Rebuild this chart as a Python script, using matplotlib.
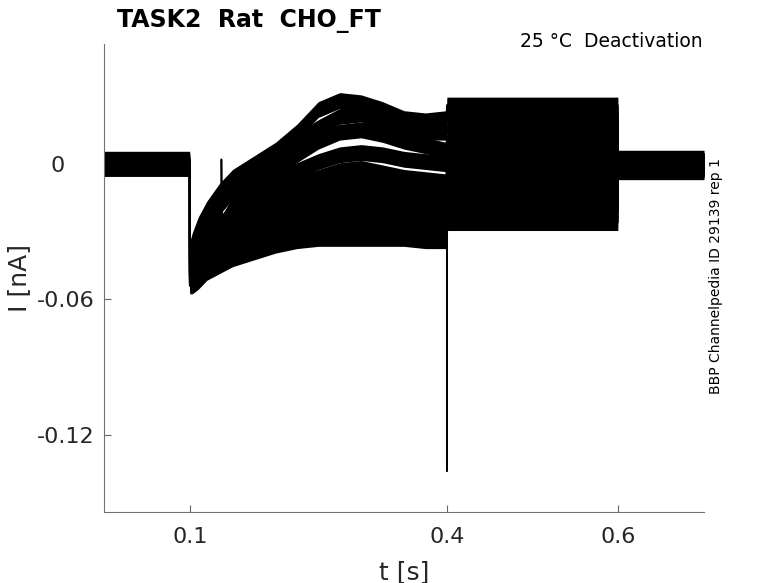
import numpy as np
import matplotlib
matplotlib.use("Agg")
import matplotlib.pyplot as plt
from matplotlib.transforms import ScaledTranslation

# knot times of the protocol segments [s]
t_pre = [0.0, 0.0999]
t_act = [0.1, 0.103, 0.11, 0.12, 0.135, 0.15, 0.175, 0.2,
         0.225, 0.25, 0.275, 0.3, 0.325, 0.35, 0.375, 0.3995]
t_step = [0.4, 0.5995]
t_post = [0.6, 0.7]

# holding current before the activation step [nA], one per sweep
base_pre = [0.002, 0.001, 0.000, -0.001, 0.001, -0.002, 0.000,
            0.002, -0.001, 0.000, -0.002, 0.001, -0.001]

# activation phase read at t_act [nA]
act = [
    [-0.038, -0.034, -0.027, -0.020, -0.012, -0.006, 0.000, 0.006,
     0.014, 0.024, 0.028, 0.027, 0.024, 0.020, 0.019, 0.020],
    [-0.040, -0.036, -0.029, -0.022, -0.015, -0.008, -0.002, 0.003,
     0.010, 0.016, 0.021, 0.022, 0.019, 0.016, 0.014, 0.014],
    [-0.042, -0.038, -0.032, -0.026, -0.019, -0.012, -0.006, -0.002,
     0.004, 0.010, 0.014, 0.015, 0.013, 0.010, 0.008, 0.006],
    [-0.044, -0.040, -0.035, -0.030, -0.024, -0.018, -0.012, -0.007,
     -0.003, 0.001, 0.004, 0.005, 0.004, 0.002, 0.001, 0.000],
    [-0.046, -0.042, -0.037, -0.032, -0.027, -0.022, -0.016, -0.012,
     -0.009, -0.006, -0.003, -0.002, -0.004, -0.006, -0.007, -0.008],
    [-0.047, -0.044, -0.039, -0.034, -0.030, -0.026, -0.021, -0.016,
     -0.013, -0.010, -0.009, -0.008, -0.009, -0.010, -0.011, -0.012],
    [-0.048, -0.046, -0.041, -0.036, -0.032, -0.028, -0.024, -0.020,
     -0.017, -0.014, -0.013, -0.012, -0.013, -0.014, -0.015, -0.015],
    [-0.049, -0.047, -0.043, -0.038, -0.034, -0.030, -0.026, -0.022,
     -0.020, -0.018, -0.017, -0.016, -0.017, -0.018, -0.018, -0.018],
    [-0.050, -0.048, -0.044, -0.040, -0.036, -0.032, -0.028, -0.025,
     -0.023, -0.021, -0.020, -0.020, -0.020, -0.021, -0.021, -0.021],
    [-0.051, -0.050, -0.046, -0.042, -0.038, -0.035, -0.031, -0.028,
     -0.026, -0.024, -0.024, -0.024, -0.024, -0.024, -0.024, -0.024],
    [-0.052, -0.051, -0.048, -0.044, -0.040, -0.037, -0.033, -0.030,
     -0.028, -0.027, -0.027, -0.027, -0.027, -0.027, -0.027, -0.027],
    [-0.053, -0.052, -0.050, -0.046, -0.042, -0.039, -0.036, -0.033,
     -0.031, -0.030, -0.030, -0.030, -0.030, -0.030, -0.030, -0.030],
    [-0.054, -0.054, -0.052, -0.048, -0.045, -0.042, -0.039, -0.036,
     -0.034, -0.033, -0.033, -0.033, -0.033, -0.033, -0.034, -0.034],
]

# tail levels during the deactivation step [nA]
step_level = [0.026, 0.022, 0.017, 0.012, 0.008, 0.004, 0.000,
              -0.004, -0.008, -0.012, -0.017, -0.021, -0.026]

# current after returning to holding [nA]
base_post = [0.001, -0.002, 0.000, -0.001, 0.002, -0.003, 0.000,
             -0.001, 0.001, -0.002, 0.000, -0.001, 0.001]

# single-sweep spikes: sweep index, time, peak
spike_sweep = [6, 3]
spike_t = [0.4, 0.137]
spike_i = [-0.136, 0.002]

# half-width of the noise band per segment [nA]
noise_pre, noise_act, noise_step, noise_post = 0.0035, 0.0035, 0.0035, 0.004

fig = plt.figure(figsize=(7.78, 5.83), dpi=100)
ax = fig.add_axes([104 / 778, 1 - 512 / 583, 600 / 778, 468 / 583])

for k in range(len(act)):
    t = t_pre + t_act + t_step + t_post
    y = [base_pre[k]] * 2 + act[k] + [step_level[k]] * 2 + [base_post[k]] * 2
    w = ([noise_pre] * 2 + [noise_act] * len(t_act)
         + [noise_step] * 2 + [noise_post] * 2)
    for s, ts, ys in zip(spike_sweep, spike_t, spike_i):
        if s == k:
            j = int(np.searchsorted(t, ts))
            yv = np.interp(ts, t, y)
            t[j:j] = [ts, ts, ts + 0.0005]
            y[j:j] = [yv, ys, yv]
            w[j:j] = [0.0005, 0.0005, 0.0005]
    t, y, w = np.array(t), np.array(y), np.array(w)
    ax.fill_between(t, y - w, y + w, color="black", lw=0)
    ax.plot(t, y, color="black", lw=1.2)

ax.set_xlim(0, 0.7)
ax.set_ylim(-0.154, 0.053)
ax.set_xticks([0.1, 0.4, 0.6])
ax.set_xticklabels(["0.1", "0.4", "0.6"])
ax.set_yticks([-0.12, -0.06, 0])
ax.set_yticklabels(["-0.12", "-0.06", "0"])
ax.tick_params(direction="in", length=5, colors="0.4", labelcolor="#262626",
               labelsize=16)
ax.tick_params(axis="x", pad=11)
ax.tick_params(axis="y", pad=7)
for side in ["top", "right"]:
    ax.spines[side].set_visible(False)
for side in ["left", "bottom"]:
    ax.spines[side].set_color("0.45")

# the "0" label sits further left in the original
zero_lab = ax.get_yticklabels()[-1]
zero_lab.set_transform(zero_lab.get_transform()
                       + ScaledTranslation(-0.30, 0, fig.dpi_scale_trans))

ax.set_xlabel("t [s]", fontsize=18, color="#262626", labelpad=9)
ax.set_ylabel("I [nA]", fontsize=18, color="#262626", labelpad=4)

fig.text(117 / 778, 1 - 27 / 583, "TASK2  Rat  CHO_FT", fontsize=17,
         fontweight="bold", ha="left", va="baseline")
fig.text(703 / 778, 1 - 47 / 583, "25 \u00b0C  Deactivation", fontsize=13.5,
         ha="right", va="baseline")
fig.text(716 / 778, 1 - 276 / 583, "BBP Channelpedia ID 29139 rep 1",
         fontsize=10, rotation=90, ha="center", va="center")

fig.savefig("out.png", dpi=100)
